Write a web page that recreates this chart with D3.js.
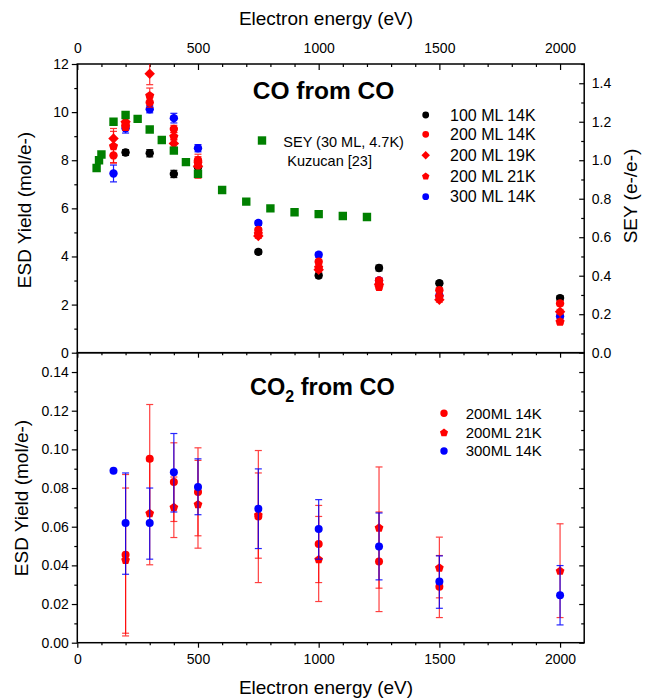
<!DOCTYPE html>
<html><head><meta charset="utf-8">
<script src="https://cdn.jsdelivr.net/npm/d3@7"></script>
<style>
body{margin:0;background:#fff}
svg{display:block}
text{font-family:"Liberation Sans",Arial,Helvetica,sans-serif;fill:#000}
</style>
</head><body>
<svg id="c" width="647" height="698"></svg>
<script>
// ---------------- DATA ----------------
// Top panel: CO from CO (ESD yield, mol/e-)
const topEnergies = [150, 200, 300, 400, 500, 750, 1000, 1250, 1500, 2000];
const co100ML14K = [null, 8.32, 8.29, 7.43, 7.71, 4.19, 3.21, 3.52, 2.89, 2.27];
const co100ML14KErr = [null, 0.12, 0.15, 0.15, 0.2, 0.1, 0.1, 0.12, 0.08, 0.1];
const co200ML14K = [8.2, 9.5, 10.4, 9.3, 8.0, 5.1, 3.78, 3.0, 2.6, 2.05];
const co200ML14KErr = [0.3, 0.15, 0.2, 0.15, 0.15, 0.1, 0.1, 0.1, 0.1, 0.1];
const co200ML19K = [8.9, 9.6, 11.59, 8.7, 7.75, 4.85, 3.45, 2.85, 2.2, 1.7];
const co200ML19KErr = [0.3, 0.15, 0.45, 0.15, 0.5, 0.1, 0.1, 0.1, 0.1, 0.1];
const co200ML21K = [8.6, 9.4, 10.7, 9.0, 7.9, 4.95, 3.55, 2.75, 2.35, 1.3];
const co200ML21KErr = [0.72, 0.15, 0.3, 0.15, 0.15, 0.1, 0.1, 0.1, 0.1, 0.1];
const co300ML14K = [7.45, 9.33, 10.12, 9.75, 8.5, 5.39, 4.07, 3.0, 2.37, 1.51];
const co300ML14KErr = [0.35, 0.2, 0.15, 0.2, 0.15, 0.1, 0.1, 0.1, 0.1, 0.1];
// SEY (30 ML, 4.7K) Kuzucan [23]
const seyEnergies = [80, 90, 100, 150, 200, 250, 300, 350, 400, 450, 500, 600, 700, 800, 900, 1000, 1100, 1200];
const seyValues = [0.96, 1.0, 1.03, 1.20, 1.235, 1.215, 1.16, 1.105, 1.05, 0.99, 0.93, 0.845, 0.785, 0.75, 0.73, 0.72, 0.71, 0.705];

// Bottom panel: CO2 from CO
const redEnergies = [200, 300, 400, 500, 750, 1000, 1250, 1500, 2000];
const co2_200ML14K = [0.0455, 0.0951, 0.0831, 0.0780, 0.0653, 0.0510, 0.0420, 0.0290, null];
const co2_200ML14KLo = [0.0035, 0.0670, 0.0627, 0.0553, 0.0311, 0.0311, 0.0161, 0.0130, null];
const co2_200ML14KHi = [0.0870, 0.1232, 0.1034, 0.1008, 0.0994, 0.0710, 0.0676, 0.0451, null];
const co2_200ML21K = [0.0429, 0.0671, 0.0702, 0.0717, 0.0662, 0.0432, 0.0596, 0.0389, 0.0373];
const co2_200ML21KLo = [0.0049, 0.0403, 0.0544, 0.0489, 0.0437, 0.0213, 0.0282, 0.0232, 0.0130];
const co2_200ML21KHi = [0.0800, 0.0940, 0.0857, 0.0943, 0.0878, 0.0653, 0.0909, 0.0546, 0.0615];
const blueEnergies = [150, 200, 300, 400, 500, 750, 1000, 1250, 1500, 2000];
const co2_300ML14K = [0.0890, 0.0619, 0.0619, 0.0881, 0.0805, 0.0693, 0.0588, 0.0498, 0.0316, 0.0246];
const co2_300ML14KLo = [null, 0.0354, 0.0432, 0.0676, 0.0662, 0.0487, 0.0432, 0.0325, 0.0178, 0.0092];
const co2_300ML14KHi = [null, 0.0878, 0.0800, 0.1082, 0.0951, 0.0899, 0.0740, 0.0671, 0.0449, 0.0399];

// Tick values
const xMajorTicks = [0, 500, 1000, 1500, 2000];
const topYTicks = [0, 2, 4, 6, 8, 10, 12];
const seyTicks = [0.0, 0.2, 0.4, 0.6, 0.8, 1.0, 1.2, 1.4];
const botYTicks = [0.00, 0.02, 0.04, 0.06, 0.08, 0.10, 0.12, 0.14];

const topLegend = ["100 ML 14K", "200 ML 14K", "200 ML 19K", "200 ML 21K", "300 ML 14K"];
const botLegend = ["200ML 14K", "200ML 21K", "300ML 14K"];

// ---------------- DRAW ----------------
const svg = d3.select("#c");
const FONT = '"Liberation Sans", Arial, Helvetica, sans-serif';
const RED = "#ff0000", BLUE = "#0000ff", GREEN = "#008000", BLACK = "#000000";
const fmtX = d3.format("d");

const x = d3.scaleLinear().domain([0, 2100]).range([77.3, 584.2]);
const yT = d3.scaleLinear().domain([0, 12]).range([352.7, 64]);
const yS = d3.scaleLinear().domain([0, 1.5]).range([352.7, 64]);
const yB = d3.scaleLinear().domain([0, 0.15]).range([642.7, 352.7]);

// symbols
function pentagonPath(r) {
  const pts = d3.range(5).map(i => {
    const a = -Math.PI / 2 + i * 2 * Math.PI / 5;
    return [r * Math.cos(a), r * Math.sin(a) + r * 0.1];
  });
  return "M" + pts.map(p => p.join(",")).join("L") + "Z";
}
function diamondPath(r) { return `M0,${-r}L${r},0L0,${r}L${-r},0Z`; }
function circlePath(r) { return d3.symbol(d3.symbolCircle, Math.PI * r * r)(); }
function squarePath(s) { const h = s / 2; return `M${-h},${-h}H${h}V${h}H${-h}Z`; }
const shapes = {
  circle: r => circlePath(r),
  diamond: r => diamondPath(r * 1.25),
  pentagon: r => pentagonPath(r * 1.15),
  square: r => squarePath(r * 2)
};

// clip paths
const defs = svg.append("defs");
defs.append("clipPath").attr("id", "clipTop").append("rect")
  .attr("x", x(0)).attr("y", yT(12)).attr("width", x(2100) - x(0)).attr("height", yT(0) - yT(12));
defs.append("clipPath").attr("id", "clipBot").append("rect")
  .attr("x", x(0)).attr("y", yB(0.15)).attr("width", x(2100) - x(0)).attr("height", yB(0) - yB(0.15));

function styleAxis(g, size) {
  g.attr("font-family", FONT).attr("font-size", size);
  g.select(".domain").remove();
  g.selectAll("line").attr("stroke", "#000").attr("stroke-width", 1.2);
  g.selectAll("text").attr("fill", "#000");
}
const minorX = d3.range(100, 2100, 100).filter(v => v % 500);

// ---- Top panel axes ----
svg.append("g").attr("transform", `translate(0,${yT(12)})`)
  .call(d3.axisTop(x).tickValues(xMajorTicks).tickSizeInner(-6).tickSizeOuter(0).tickPadding(11).tickFormat(fmtX))
  .call(g => styleAxis(g, 14));
svg.append("g").attr("transform", `translate(0,${yT(12)})`)
  .call(d3.axisTop(x).tickValues(minorX).tickSize(-3).tickFormat(""))
  .call(g => styleAxis(g, 14));
svg.append("g").attr("transform", `translate(0,${yT(0)})`)
  .call(d3.axisBottom(x).tickValues(xMajorTicks).tickSize(5).tickFormat(""))
  .call(g => styleAxis(g, 14));
svg.append("g").attr("transform", `translate(0,${yT(0)})`)
  .call(d3.axisBottom(x).tickValues(minorX).tickSize(2.5).tickFormat(""))
  .call(g => styleAxis(g, 14));
svg.append("g").attr("transform", `translate(${x(0)},0)`)
  .call(d3.axisLeft(yT).tickValues(topYTicks).tickSize(5.5).tickPadding(3).tickFormat(d3.format("d")))
  .call(g => styleAxis(g, 14));
svg.append("g").attr("transform", `translate(${x(0)},0)`)
  .call(d3.axisLeft(yT).tickValues([1, 3, 5, 7, 9, 11]).tickSize(3).tickFormat(""))
  .call(g => styleAxis(g, 14));
svg.append("g").attr("transform", `translate(${x(2100)},0)`)
  .call(d3.axisRight(yS).tickValues(seyTicks).tickSizeInner(-5).tickSizeOuter(0).tickPadding(7.5).tickFormat(d3.format(".1f")))
  .call(g => styleAxis(g, 14));
svg.append("g").attr("transform", `translate(${x(2100)},0)`)
  .call(d3.axisRight(yS).tickValues([0.1, 0.3, 0.5, 0.7, 0.9, 1.1, 1.3, 1.5]).tickSize(-3).tickFormat(""))
  .call(g => styleAxis(g, 14));

// ---- Bottom panel axes ----
svg.append("g").attr("transform", `translate(0,${yB(0)})`)
  .call(d3.axisBottom(x).tickValues(xMajorTicks).tickSize(5).tickPadding(6).tickFormat(fmtX))
  .call(g => styleAxis(g, 14));
svg.append("g").attr("transform", `translate(0,${yB(0)})`)
  .call(d3.axisBottom(x).tickValues(minorX).tickSize(2.5).tickFormat(""))
  .call(g => styleAxis(g, 14));
svg.append("g").attr("transform", `translate(${x(0)},0)`)
  .call(d3.axisLeft(yB).tickValues(botYTicks).tickSize(5.5).tickPadding(3).tickFormat(d3.format(".2f")))
  .call(g => styleAxis(g, 14));
svg.append("g").attr("transform", `translate(${x(0)},0)`)
  .call(d3.axisLeft(yB).tickValues([0.01, 0.03, 0.05, 0.07, 0.09, 0.11, 0.13]).tickSize(3).tickFormat(""))
  .call(g => styleAxis(g, 14));
svg.append("g").attr("transform", `translate(${x(2100)},0)`)
  .call(d3.axisRight(yB).tickValues(botYTicks).tickSize(-5).tickFormat(""))
  .call(g => styleAxis(g, 14));
svg.append("g").attr("transform", `translate(${x(2100)},0)`)
  .call(d3.axisRight(yB).tickValues([0.01, 0.03, 0.05, 0.07, 0.09, 0.11, 0.13]).tickSize(-3).tickFormat(""))
  .call(g => styleAxis(g, 14));

// frames
svg.append("rect").attr("x", x(0)).attr("y", yT(12)).attr("width", x(2100) - x(0)).attr("height", yT(0) - yT(12))
  .attr("fill", "none").attr("stroke", "#000").attr("stroke-width", 1.5);
svg.append("rect").attr("x", x(0)).attr("y", yB(0.15)).attr("width", x(2100) - x(0)).attr("height", yB(0) - yB(0.15))
  .attr("fill", "none").attr("stroke", "#000").attr("stroke-width", 1.5);

// ---- series drawing helpers ----
function drawSeries(layer, yScale, energies, vals, lo, hi, color, shape, r, barOpacity) {
  const data = energies.map((e, i) => ({ e, v: vals[i], lo: lo ? lo[i] : null, hi: hi ? hi[i] : null }))
    .filter(d => d.v != null);
  const g = layer.append("g");
  const bars = data.filter(d => d.lo != null && d.hi != null);
  const eb = g.append("g").attr("stroke", color).attr("stroke-width", 1.2).attr("opacity", barOpacity);
  bars.forEach(d => {
    const cx = x(d.e);
    eb.append("line").attr("x1", cx).attr("x2", cx).attr("y1", yScale(d.lo)).attr("y2", yScale(d.hi));
    eb.append("line").attr("x1", cx - 3.5).attr("x2", cx + 3.5).attr("y1", yScale(d.lo)).attr("y2", yScale(d.lo));
    eb.append("line").attr("x1", cx - 3.5).attr("x2", cx + 3.5).attr("y1", yScale(d.hi)).attr("y2", yScale(d.hi));
  });
  g.selectAll("path.m").data(data).join("path").attr("class", "m")
    .attr("d", shapes[shape](r))
    .attr("transform", d => `translate(${x(d.e)},${yScale(d.v)})`)
    .attr("fill", color);
}
const sym = (vals, errs) => [vals.map((v, i) => v == null || errs[i] == null ? null : v - errs[i]),
                             vals.map((v, i) => v == null || errs[i] == null ? null : v + errs[i])];

const topLayer = svg.append("g").attr("clip-path", "url(#clipTop)");
let e;
e = sym(co100ML14K, co100ML14KErr); drawSeries(topLayer, yT, topEnergies, co100ML14K, e[0], e[1], BLACK, "circle", 4.2, 0.9);
e = sym(co300ML14K, co300ML14KErr); drawSeries(topLayer, yT, topEnergies, co300ML14K, e[0], e[1], BLUE, "circle", 4.2, 0.9);
e = sym(co200ML14K, co200ML14KErr); drawSeries(topLayer, yT, topEnergies, co200ML14K, e[0], e[1], RED, "circle", 4.2, 0.8);
e = sym(co200ML19K, co200ML19KErr); drawSeries(topLayer, yT, topEnergies, co200ML19K, e[0], e[1], RED, "diamond", 4.2, 0.8);
e = sym(co200ML21K, co200ML21KErr); drawSeries(topLayer, yT, topEnergies, co200ML21K, e[0], e[1], RED, "pentagon", 4.2, 0.8);
drawSeries(topLayer, yS, seyEnergies, seyValues, null, null, GREEN, "square", 4.2, 1);

const botLayer = svg.append("g").attr("clip-path", "url(#clipBot)");
drawSeries(botLayer, yB, redEnergies, co2_200ML14K, co2_200ML14KLo, co2_200ML14KHi, RED, "circle", 4, 0.75);
drawSeries(botLayer, yB, redEnergies, co2_200ML21K, co2_200ML21KLo, co2_200ML21KHi, RED, "pentagon", 4, 0.75);
drawSeries(botLayer, yB, blueEnergies, co2_300ML14K, co2_300ML14KLo, co2_300ML14KHi, BLUE, "circle", 4, 0.85);

// ---- Titles and labels ----
svg.append("text").attr("x", 252.7).attr("y", 99.3).attr("font-size", 24.5).attr("font-weight", "bold").text("CO from CO");
const t2 = svg.append("text").attr("x", 250).attr("y", 395).attr("font-size", 23.5).attr("font-weight", "bold");
t2.append("tspan").text("CO");
t2.append("tspan").attr("font-size", 16).attr("dy", 6.7).text("2");
t2.append("tspan").attr("dy", -6.7).text(" from CO");

svg.append("text").attr("x", 326).attr("y", 25).attr("text-anchor", "middle").attr("font-size", 19).text("Electron energy (eV)");
svg.append("text").attr("x", 326).attr("y", 694).attr("text-anchor", "middle").attr("font-size", 19).text("Electron energy (eV)");
svg.append("text").attr("transform", "translate(31,210) rotate(-90)").attr("text-anchor", "middle").attr("font-size", 19).text("ESD Yield (mol/e-)");
svg.append("text").attr("transform", "translate(28,498) rotate(-90)").attr("text-anchor", "middle").attr("font-size", 19).text("ESD Yield (mol/e-)");
svg.append("text").attr("transform", "translate(637,196) rotate(-90)").attr("text-anchor", "middle").attr("font-size", 19).text("SEY (e-/e-)");

// ---- Legends ----
const topLegY = [115, 134.3, 155.3, 176, 196.7];
const topLegColors = [BLACK, RED, RED, RED, BLUE];
const topLegShapes = ["circle", "circle", "diamond", "pentagon", "circle"];
topLegend.forEach((lab, i) => {
  svg.append("path").attr("d", shapes[topLegShapes[i]](3.4)).attr("fill", topLegColors[i])
    .attr("transform", `translate(425.7,${topLegY[i]})`);
  svg.append("text").attr("x", 450).attr("y", topLegY[i] + 5.7).attr("font-size", 16).text(lab);
});
svg.append("path").attr("d", shapes.square(4.2)).attr("fill", GREEN).attr("transform", "translate(262,140.5)");
svg.append("text").attr("x", 283.3).attr("y", 146.5).attr("font-size", 14.5).text("SEY (30 ML, 4.7K)");
svg.append("text").attr("x", 287.3).attr("y", 165.5).attr("font-size", 14.5).text("Kuzucan [23]");

const botLegY = [413.3, 432.3, 451];
const botLegColors = [RED, RED, BLUE];
const botLegShapes = ["circle", "pentagon", "circle"];
botLegend.forEach((lab, i) => {
  svg.append("path").attr("d", shapes[botLegShapes[i]](3.7)).attr("fill", botLegColors[i])
    .attr("transform", `translate(444,${botLegY[i]})`);
  svg.append("text").attr("x", 465.7).attr("y", botLegY[i] + 5.3).attr("font-size", 15).text(lab);
});
</script>
</body></html>
